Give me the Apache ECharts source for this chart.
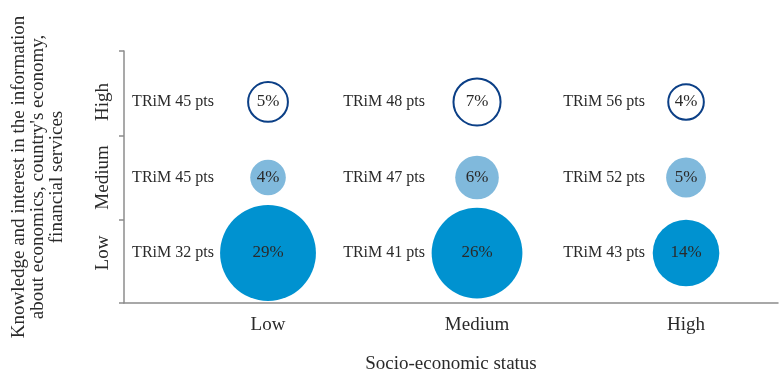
<!DOCTYPE html>
<html>
<head>
    <meta charset="utf-8">
    <title>TRiM by socio-economic status</title>
    <script src="https://cdn.jsdelivr.net/npm/echarts@6/dist/echarts.min.js"></script>
    <style type="text/css">
        body { margin: 0; background: #fff; }
        #main { width: 779px; height: 370px; }
    </style>
</head>
<body>
    <div id="main"></div>

    <script type="text/javascript">
        // categories
        var xCats = ['Low', 'Medium', 'High'];
        var yCats = ['Low', 'Medium', 'High'];

        // share of respondents (%), one array per knowledge row, columns = socio-economic status
        var shareLow = [29, 26, 14];
        var shareMedium = [4, 6, 5];
        var shareHigh = [5, 7, 4];

        // TRiM points, same layout
        var trimLow = [32, 41, 43];
        var trimMedium = [45, 47, 52];
        var trimHigh = [45, 48, 56];

        var font = 'Liberation Serif';
        var textColor = '#2a2a2a';
        var axisColor = '#8c8c8c';

        // horizontal shift of the TRiM text left of each bubble
        var trimShift = [-95, -93, -82];

        function bubbles(shares, row) {
            return shares.map(function (v, i) { return [i + 1, row, v]; });
        }

        function trims(pts, row) {
            return pts.map(function (v, i) {
                return {
                    value: [i + 1, row, v],
                    label: { offset: [trimShift[i], 0] }
                };
            });
        }

        function bubbleSeries(shares, row, style) {
            style.opacity = 1;
            return {
                type: 'scatter',
                data: bubbles(shares, row),
                symbolSize: function (d) { return 17.8 * Math.sqrt(d[2]); },
                itemStyle: style,
                label: {
                    show: true,
                    position: 'inside',
                    formatter: function (p) { return p.value[2] + '%'; },
                    color: textColor,
                    fontFamily: font,
                    fontSize: 17
                },
                emphasis: { disabled: true },
                z: 3
            };
        }

        function trimSeries(pts, row) {
            return {
                type: 'scatter',
                data: trims(pts, row),
                symbolSize: 1,
                itemStyle: { color: 'rgba(0,0,0,0)', opacity: 1 },
                label: {
                    show: true,
                    position: 'inside',
                    formatter: function (p) { return 'TRiM ' + p.value[2] + ' pts'; },
                    color: textColor,
                    fontFamily: font,
                    fontSize: 16
                },
                emphasis: { disabled: true },
                z: 4
            };
        }

        var chart = echarts.init(document.getElementById('main'));

        var option = {
            animation: false,
            grid: {
                left: 124, right: 1, top: 51, bottom: 67,
                containLabel: false, outerBoundsMode: 'none'
            },
            xAxis: {
                type: 'value',
                min: 0.311,
                max: 3.44,
                name: 'Socio-economic status',
                nameLocation: 'middle',
                nameGap: 52,
                nameTextStyle: { fontFamily: font, fontSize: 19, color: textColor },
                axisLine: { show: true, lineStyle: { color: axisColor, width: 1.5 } },
                axisTick: { show: false },
                splitLine: { show: false },
                axisLabel: {
                    customValues: [1, 2, 3],
                    formatter: function (v) { return xCats[Math.round(v) - 1]; },
                    fontFamily: font,
                    fontSize: 19,
                    color: textColor,
                    margin: 13
                }
            },
            yAxis: {
                type: 'value',
                min: 0.338,
                max: 3.675,
                name: 'Knowledge and interest in the information\nabout economics, country\'s economy,\nfinancial services',
                nameLocation: 'middle',
                nameRotate: 90,
                nameGap: 57,
                nameTextStyle: {
                    fontFamily: font, fontSize: 19, color: textColor,
                    lineHeight: 19, align: 'center'
                },
                axisLine: { show: true, lineStyle: { color: axisColor, width: 1.5 } },
                axisTick: {
                    show: true,
                    customValues: [0.338, 1.437, 2.55, 3.675],
                    length: 5,
                    lineStyle: { color: axisColor, width: 1.5 }
                },
                splitLine: { show: false },
                axisLabel: {
                    customValues: [1, 2, 3],
                    formatter: function (v) { return yCats[Math.round(v) - 1]; },
                    rotate: 90,
                    fontFamily: font,
                    fontSize: 19,
                    color: textColor,
                    margin: 11
                }
            },
            series: [
                bubbleSeries(shareLow, 1, { color: '#0092d0' }),
                bubbleSeries(shareMedium, 2, { color: '#80b9dc' }),
                bubbleSeries(shareHigh, 3, { color: '#ffffff', borderColor: '#0b3f86', borderWidth: 2 }),
                trimSeries(trimLow, 1),
                trimSeries(trimMedium, 2),
                trimSeries(trimHigh, 3)
            ]
        };

        chart.setOption(option);
    </script>
</body>
</html>
